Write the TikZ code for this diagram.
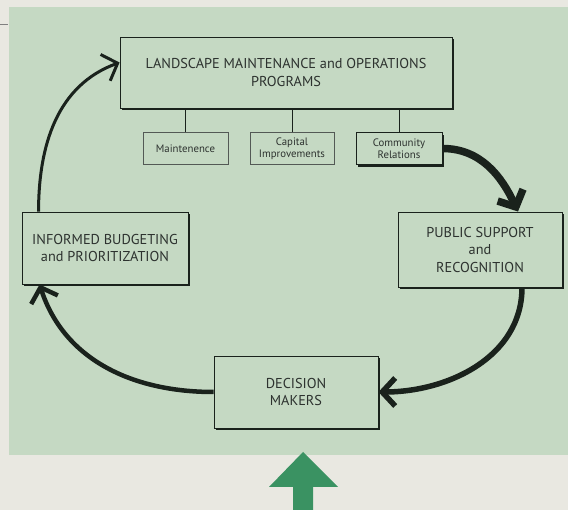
\documentclass[tikz,border=0pt]{standalone}
\usepackage{fontspec}
\setmainfont{PT Sans}
\usepackage{xcolor}
\usetikzlibrary{positioning,arrows.meta,shadows}
\definecolor{paper}{RGB}{233,232,225}
\definecolor{panel}{RGB}{197,217,195}
\definecolor{ink}{RGB}{26,34,28}
\definecolor{txt}{RGB}{45,50,47}
\definecolor{upgreen}{RGB}{58,146,98}

\begin{document}
\begin{tikzpicture}[x=1pt,y=-1pt,on grid,font=\fontsize{14.3}{17.5}\selectfont,
  box/.style={draw=ink,line width=0.9pt,fill=panel,text=txt,align=center,inner sep=0pt,
    drop shadow={shadow xshift=2.4pt,shadow yshift=-2.4pt,fill=ink,opacity=1}},
  sub/.style={draw=ink!75,line width=0.7pt,fill=panel,text=txt,align=center,inner sep=0pt,
    minimum height=32pt,font=\fontsize{10.8}{12.5}\selectfont},
  flow/.style={draw=ink,-{Straight Barb[length=13pt,width=28pt]}}]
\useasboundingbox (0,0) rectangle (568,510);
\fill[paper] (0,0) rectangle (568,510);
\fill[panel] (9,7) rectangle (568,455);
\draw[gray,line width=1pt] (0,25) -- (8,25);
% up arrow below the panel
\fill[upgreen] (303,452) -- (338,487) -- (313,487) -- (313,510) -- (293,510) -- (293,487) -- (269,487) -- cycle;

\node[box,minimum width=332pt,minimum height=71pt] (prog) at (286,72.5)
  {LANDSCAPE MAINTENANCE and OPERATIONS\\PROGRAMS};
\node[sub,minimum width=85pt] (maint) at (185.5,148.5) {Maintenence};
\node[sub,minimum width=84pt,right=106.5pt of maint] (capt) {Capital\\Improvements};
\node[sub,box,minimum width=86pt,minimum height=32pt,font=\fontsize{10.8}{12.5}\selectfont,
  right=107pt of capt] (comm) {Community\\Relations};
\foreach \s in {maint,capt,comm}
  \draw[ink,line width=1pt] (\s.north) -- (\s.north |- prog.south);

\node[box,minimum width=166pt,minimum height=72pt] (bud) at (105,248)
  {INFORMED BUDGETING\\and PRIORITIZATION};
\node[box,minimum width=164pt,minimum height=75pt] (pub) at (480,249.5)
  {PUBLIC SUPPORT\\and\\RECOGNITION};
\node[box,minimum width=164pt,minimum height=72pt] (dec) at (296,392)
  {DECISION\\MAKERS};

% the cycle
\draw[flow,line width=3pt] ([xshift=17pt]bud.north west) to[out=90,in=200] ([yshift=10pt]prog.west);
\draw[flow,line width=7.5pt] (comm.east) to[out=0,in=115] ([xshift=38pt]pub.north);
\draw[flow,line width=5.5pt] ([xshift=42pt]pub.south) to[out=-90,in=0] (dec.east);
\draw[flow,line width=4.5pt] (dec.west) to[out=180,in=-72] ([xshift=18pt]bud.south west);
\end{tikzpicture}
\end{document}
